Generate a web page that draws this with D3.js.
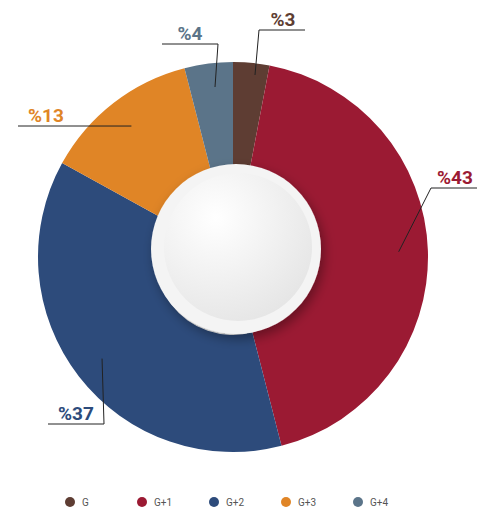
<!DOCTYPE html>
<html><head><meta charset="utf-8">
<script src="https://cdn.jsdelivr.net/npm/d3@7"></script>
<style>body{margin:0;background:#fff}</style>
</head><body>
<div id="chart"></div>
<script>
// data
let categories = ["G", "G+1", "G+2", "G+3", "G+4"];
let values = [3, 43, 37, 13, 4];
let colors = ["#5e3d33", "#9b1a33", "#2d4b7b", "#e08526", "#5b7489"];
// label anchor (text position) per slice
let labelPos = [[283, 22], [455, 180], [76, 416], [46, 118], [190, 36]];

let svgWidth = 490, svgHeight = 522;
let cx = 233, cy = 257, outerR = 195, innerR = 78;

let svg = d3.select("#chart").append("svg")
    .attr("width", svgWidth).attr("height", svgHeight);

let defs = svg.append("defs");
let grad = defs.append("radialGradient").attr("id", "disc")
    .attr("cx", "35%").attr("cy", "30%").attr("r", "80%");
grad.append("stop").attr("offset", "0%").attr("stop-color", "#ffffff");
grad.append("stop").attr("offset", "100%").attr("stop-color", "#e4e4e4");
let sh = defs.append("filter").attr("id", "shadow").attr("x", "-30%").attr("y", "-30%").attr("width", "160%").attr("height", "160%");
sh.append("feDropShadow").attr("dx", 3).attr("dy", 5).attr("stdDeviation", 6).attr("flood-opacity", 0.35);

let pie = d3.pie().sort(null).value(d => d);
let arcs = pie(values);
let arc = d3.arc().innerRadius(innerR).outerRadius(outerR);

let g = svg.append("g").attr("transform", `translate(${cx},${cy})`);
g.selectAll("path").data(arcs).enter().append("path")
    .attr("d", arc)
    .attr("fill", (d, i) => colors[i]);

// center disc
g.append("circle").attr("cx", 3).attr("cy", -8).attr("r", 85)
    .attr("fill", "#f4f4f4").attr("filter", "url(#shadow)");
g.append("circle").attr("cx", 5).attr("cy", -10).attr("r", 74)
    .attr("fill", "url(#disc)");

// labels with leader lines
let mid = d3.arc().innerRadius(outerR * 0.85).outerRadius(outerR * 0.85);
arcs.forEach((d, i) => {
    let [px, py] = mid.centroid(d);
    px += cx; py += cy;
    let [tx, ty] = labelPos[i];
    let right = tx > cx;
    let uy = ty + 8;
    let ux0 = right ? tx - 24 : tx - 28;
    let ux1 = right ? tx + 22 : tx + 28;
    let joint = right ? ux0 : ux1;
    if (i === 0) { px = cx + 22; py = cy - 182; }
    if (i === 4) { px = cx - 18; py = cy - 170; }
    svg.append("polyline")
        .attr("points", `${px},${py} ${joint},${uy} ${right ? ux1 : ux0},${uy}`)
        .attr("fill", "none").attr("stroke", "#222").attr("stroke-width", 1);
    svg.append("text")
        .attr("x", tx).attr("y", ty + 4)
        .attr("text-anchor", "middle")
        .attr("font-family", "Roboto, sans-serif").attr("font-weight", "bold")
        .attr("font-size", 19)
        .attr("fill", colors[i])
        .text("%" + values[i]);
});

// legend
let legX = d3.scalePoint().domain(categories).range([70, 358]);
let leg = svg.append("g").selectAll("g").data(categories).enter().append("g")
    .attr("transform", d => `translate(${legX(d)},502)`);
leg.append("circle").attr("r", 5).attr("fill", (d, i) => colors[i]);
leg.append("text").attr("x", 12).attr("y", 4)
    .attr("font-family", "Roboto, sans-serif").attr("font-size", 10)
    .attr("fill", "#555").text(d => d);
</script>
</body></html>
